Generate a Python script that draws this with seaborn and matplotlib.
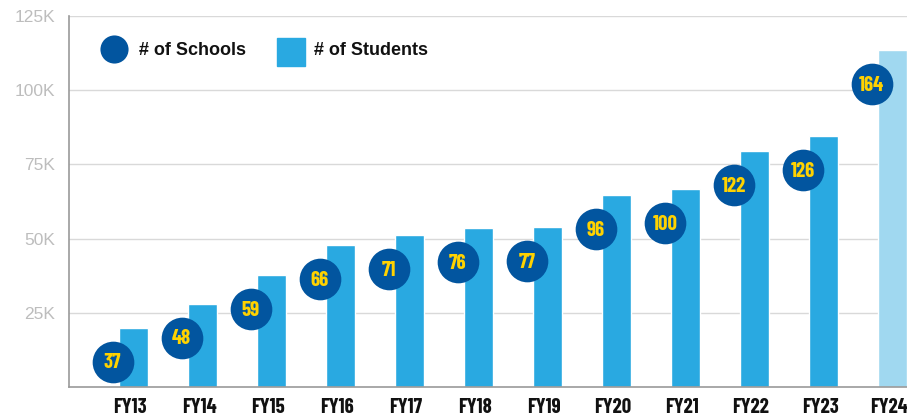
import matplotlib
matplotlib.use("Agg")
import matplotlib.pyplot as plt
import seaborn as sns
import pandas as pd
from matplotlib.patches import Rectangle
from matplotlib.ticker import FuncFormatter

years = ["FY13", "FY14", "FY15", "FY16", "FY17", "FY18", "FY19", "FY20", "FY21", "FY22", "FY23", "FY24"]
students = [20000, 28000, 37700, 47800, 51200, 53500, 53900, 64600, 66700, 79500, 84500, 113500]
schools = [37, 48, 59, 66, 71, 76, 77, 96, 100, 122, 126, 164]
bar_colors = ["#29A9E1"] * 11 + ["#A0D8F0"]
yticks = [25000, 50000, 75000, 100000, 125000]

df = pd.DataFrame({"year": years, "students": students, "schools": schools})

sns.set_theme(style="white")
plt.rcParams["font.family"] = ["Liberation Sans", "DejaVu Sans"]
cond = ["Barlow Condensed", "DejaVu Sans"]

fig = plt.figure(figsize=(9.07, 4.17), dpi=100)
ax = fig.add_axes([69 / 907, 30 / 417, 838 / 907, 371 / 417])

sns.barplot(data=df, x="year", y="students", hue="year", palette=bar_colors,
            width=0.42, legend=False, ax=ax, saturation=1)
for p in ax.patches:
    p.set_x(p.get_x() + 0.05)

# school markers sit just below each bar's top, offset to the left
offset = 11500
df["marker_y"] = df["students"] - offset
df["marker_x"] = range(len(df))
df["marker_x"] = df["marker_x"] - 0.25
sns.scatterplot(data=df, x="marker_x", y="marker_y", s=900, color="#02559F",
                edgecolor="#02559F", linewidth=0, ax=ax, zorder=5)
for xm, ym, n in zip(df["marker_x"], df["marker_y"], schools):
    ax.text(xm, ym - 300, str(n), ha="center", va="center", color="#FFD200",
            fontsize=15, fontweight="bold", family=cond, zorder=6)

ax.set_xlim(-0.884, 11.26)
ax.set_ylim(0, 125000)
ax.set_yticks(yticks)
ax.yaxis.set_major_formatter(FuncFormatter(lambda v, _: f"{int(v/1000)}K"))
ax.grid(axis="y", color="#d9d9d9", linewidth=1)
ax.set_axisbelow(True)
ax.set_xlabel("")
ax.set_ylabel("")
for s in ["top", "right"]:
    ax.spines[s].set_visible(False)
ax.spines["left"].set_color("#9a9a9a")
ax.spines["bottom"].set_color("#9a9a9a")
ax.spines["left"].set_linewidth(1.2)
ax.spines["bottom"].set_linewidth(1.2)
ax.tick_params(axis="y", length=0, pad=10, labelsize=12.5, labelcolor="#bdbdbd")
ax.tick_params(axis="x", length=0, pad=8)
for lbl in ax.get_xticklabels():
    lbl.set_fontfamily(cond)
    lbl.set_fontweight("bold")
    lbl.set_fontsize(15)
    lbl.set_color("#111111")

# legend
ax.scatter([0.0537], [0.911], s=410, color="#02559F", transform=ax.transAxes,
           clip_on=False, zorder=7, linewidths=0)
ax.text(0.0835, 0.906, "# of Schools", transform=ax.transAxes, ha="left", va="center",
        fontsize=13, fontweight="bold", color="#111111")
ax.add_patch(Rectangle((0.248, 0.865), 0.0334, 0.0755, transform=ax.transAxes,
                       color="#29A9E1", zorder=7))
ax.text(0.2924, 0.906, "# of Students", transform=ax.transAxes, ha="left", va="center",
        fontsize=13, fontweight="bold", color="#111111")

fig.savefig("out.png", dpi=100)
